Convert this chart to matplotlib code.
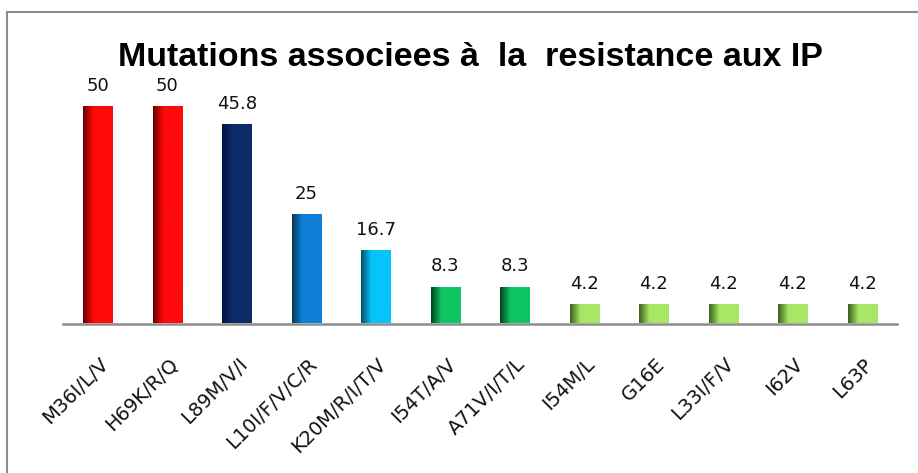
import numpy as np
import matplotlib
matplotlib.use('Agg')
import matplotlib.pyplot as plt
from matplotlib.colors import LinearSegmentedColormap
from matplotlib.transforms import ScaledTranslation
from matplotlib.lines import Line2D

TITLE = 'Mutations associees à  la  resistance aux IP'

mutations = ['M36I/L/V', 'H69K/R/Q', 'L89M/V/I', 'L10I/F/V/C/R', 'K20M/R/I/T/V',
             'I54T/A/V', 'A71V/I/T/L', 'I54M/L', 'G16E', 'L33I/F/V', 'I62V', 'L63P']
percent = [50, 50, 45.8, 25, 16.7, 8.3, 8.3, 4.2, 4.2, 4.2, 4.2, 4.2]
value_labels = ['50', '50', '45.8', '25', '16.7', '8.3', '8.3', '4.2', '4.2', '4.2', '4.2', '4.2']

# (dark edge, bright face) per bar
bar_colors = [
    ('#6a0000', '#ff0a0a'), ('#6a0000', '#ff0a0a'),
    ('#00133d', '#0d2c6a'),
    ('#08385c', '#0e80d8'),
    ('#07506e', '#05c4fb'),
    ('#00451f', '#0ec661'), ('#00451f', '#0ec661'),
    ('#3a631c', '#a8e766'), ('#3a631c', '#a8e766'), ('#3a631c', '#a8e766'),
    ('#3a631c', '#a8e766'), ('#3a631c', '#a8e766'),
]

W, H, DPI = 918, 473, 100
fig = plt.figure(figsize=(W / DPI, H / DPI), dpi=DPI)

# axes placed so the baseline sits at y~323 px
ax_left, ax_right = 63, 897
ax_bottom, ax_top = 323.5, 30
ax = fig.add_axes([ax_left / W, 1 - ax_bottom / H,
                   (ax_right - ax_left) / W, (ax_bottom - ax_top) / H])
ymax = (ax_bottom - ax_top) / 4.33

bar_w = 0.42
x = np.arange(len(mutations))
grad = np.linspace(0, 1, 64).reshape(1, -1)
for xi, val, (dark, bright) in zip(x, percent, bar_colors):
    cmap = LinearSegmentedColormap.from_list(
        'g', [(0, dark), (0.35, bright), (0.75, bright), (1, bright)])
    ax.imshow(grad, cmap=cmap, aspect='auto', interpolation='bicubic',
              extent=(xi - bar_w / 2, xi + bar_w / 2, 0, val), zorder=2)
    ax.annotate(value_labels[xi], (xi, val), xytext=(0, 9), textcoords='offset points',
                ha='center', va='bottom', fontsize=13, color='#111111')
ax.set_xlim(-0.5, len(mutations) - 0.5)
ax.set_ylim(0, ymax)

for s in ['top', 'right', 'left']:
    ax.spines[s].set_visible(False)
ax.spines['bottom'].set_color('#8c8c8c')
ax.spines['bottom'].set_linewidth(1.8)
ax.set_yticks([])
ax.set_xticks([])

off = ScaledTranslation(1 / DPI, -31 / DPI, fig.dpi_scale_trans)
for xi, lab in zip(x, mutations):
    ax.text(xi, 0, lab, transform=ax.get_xaxis_transform() + off,
            rotation=45, rotation_mode='anchor', ha='right', va='top',
            fontsize=14, color='#111111')

fig.text(470 / W, 1 - 57 / H, TITLE, ha='center', va='center',
         fontsize=24.5, fontweight='bold', family='Liberation Sans', color='black')

# chart frame (left and top edges visible)
fig.add_artist(Line2D([7 / W, 7 / W], [0, 1 - 12 / H], transform=fig.transFigure,
                      color='#8c8c8c', lw=1.5))
fig.add_artist(Line2D([7 / W, 1], [1 - 12 / H, 1 - 12 / H], transform=fig.transFigure,
                      color='#8c8c8c', lw=1.5))

fig.savefig('out.png', dpi=DPI)
